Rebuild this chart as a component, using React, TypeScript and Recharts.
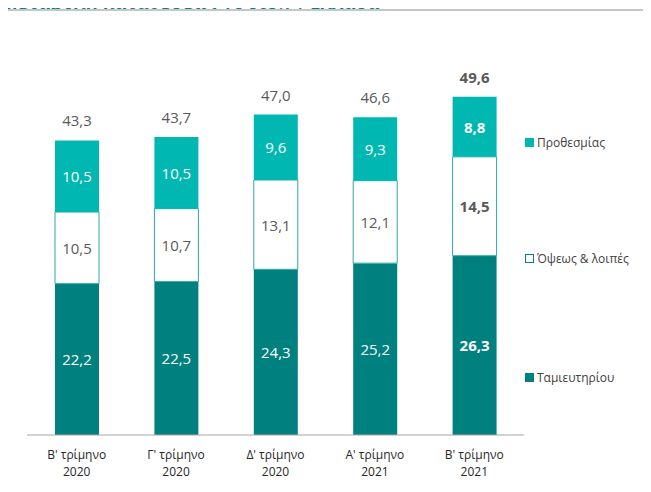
import { BarChart, Bar, XAxis, YAxis, LabelList } from 'recharts'

const quarters = ["Β' τρίμηνο\n2020", "Γ' τρίμηνο\n2020", "Δ' τρίμηνο\n2020", "Α' τρίμηνο\n2021", "Β' τρίμηνο\n2021"]
const savings = [22.2, 22.5, 24.3, 25.2, 26.3]
const sight = [10.5, 10.7, 13.1, 12.1, 14.5]
const term = [10.5, 10.5, 9.6, 9.3, 8.8]
const totals = [43.3, 43.7, 47.0, 46.6, 49.6]

const seriesNames = ['Προθεσμίας', 'Όψεως & λοιπές', 'Ταμιευτηρίου']

const DARK = '#00807f'
const LIGHT = '#00b8b1'
const FONT = '"Open Sans", "Noto Sans", sans-serif'

const data = quarters.map((q, i) => ({
  quarter: q,
  savings: savings[i],
  sight: sight[i],
  term: term[i],
  total: totals[i]
}))

const fmt = (v: number) => v.toFixed(1).replace('.', ',')

function segmentLabel(color: string) {
  return (props: any) => {
    const { x, y, width, height, value, index } = props
    return (
      <text
        x={x + width / 2}
        y={y + height / 2}
        textAnchor="middle"
        dominantBaseline="central"
        fill={color}
        fontSize={15}
        fontFamily={FONT}
        fontWeight={index === 4 ? 700 : 400}
      >
        {fmt(value)}
      </text>
    )
  }
}

function totalLabel(props: any) {
  const { x, y, width, index } = props
  return (
    <text
      x={x + width / 2}
      y={y - 20}
      textAnchor="middle"
      dominantBaseline="central"
      fill="#595959"
      fontSize={15}
      fontFamily={FONT}
      fontWeight={index === 4 ? 700 : 400}
    >
      {fmt(totals[index])}
    </text>
  )
}

function QuarterTick(props: any) {
  const { x, y, payload } = props
  const lines = String(payload.value).split('\n')
  return (
    <text x={x} y={y} textAnchor="middle" fill="#262626" fontSize={12} fontFamily={FONT}>
      {lines.map((l, i) => (
        <tspan key={i} x={x} dy={i === 0 ? 16 : 17}>
          {l}
        </tspan>
      ))}
    </text>
  )
}

const legendRows = [
  { name: seriesNames[0], y: 142, fill: LIGHT, stroke: LIGHT },
  { name: seriesNames[1], y: 258, fill: '#ffffff', stroke: DARK },
  { name: seriesNames[2], y: 377, fill: DARK, stroke: DARK }
]

export default function App() {
  return (
    <div
      style={{
        position: 'relative',
        width: 651,
        height: 492,
        margin: -8,
        overflow: 'hidden',
        background: '#fff',
        fontFamily: FONT
      }}
    >
      <div
        style={{
          position: 'absolute',
          left: 0,
          top: -8,
          height: 20,
          lineHeight: '20px',
          fontSize: 18.7,
          fontWeight: 700,
          color: DARK,
          whiteSpace: 'nowrap'
        }}
      >
        Μεταβολή καταθέσεων (€ δισ.) | Ελλάδα
      </div>
      <div
        style={{
          position: 'absolute',
          left: 2,
          top: 9,
          width: 700,
          height: 600,
          borderTop: '2px solid #c6c6c6',
          borderLeft: '2px solid #c6c6c6',
          background: '#fff'
        }}
      />
      <div style={{ position: 'absolute', left: 0, top: 0 }}>
        <BarChart
          width={651}
          height={492}
          data={data}
          margin={{ top: 60, right: 127, left: 27, bottom: 0 }}
          barSize={44}
        >
          <XAxis
            dataKey="quarter"
            height={57}
            tickLine={false}
            axisLine={{ stroke: '#a6a6a6' }}
            tick={<QuarterTick />}
            interval={0}
          />
          <YAxis hide domain={[0, 55]} />
          <Bar dataKey="savings" stackId="a" fill={DARK} isAnimationActive={false}>
            <LabelList dataKey="savings" content={segmentLabel('#ffffff')} />
          </Bar>
          <Bar dataKey="sight" stackId="a" fill="#ffffff" stroke="#2aa9a3" strokeWidth={1} isAnimationActive={false}>
            <LabelList dataKey="sight" content={segmentLabel('#595959')} />
          </Bar>
          <Bar dataKey="term" stackId="a" fill={LIGHT} isAnimationActive={false}>
            <LabelList dataKey="term" content={segmentLabel('#ffffff')} />
            <LabelList dataKey="total" content={totalLabel} />
          </Bar>
        </BarChart>
      </div>
      {legendRows.map((r) => (
        <div
          key={r.name}
          style={{
            position: 'absolute',
            left: 525,
            top: r.y - 9,
            height: 18,
            display: 'flex',
            alignItems: 'center',
            fontSize: 12,
            color: '#404040'
          }}
        >
          <span
            style={{
              display: 'inline-block',
              width: 7,
              height: 7,
              background: r.fill,
              border: `1px solid ${r.stroke}`,
              marginRight: 3
            }}
          />
          {r.name}
        </div>
      ))}
    </div>
  )
}
